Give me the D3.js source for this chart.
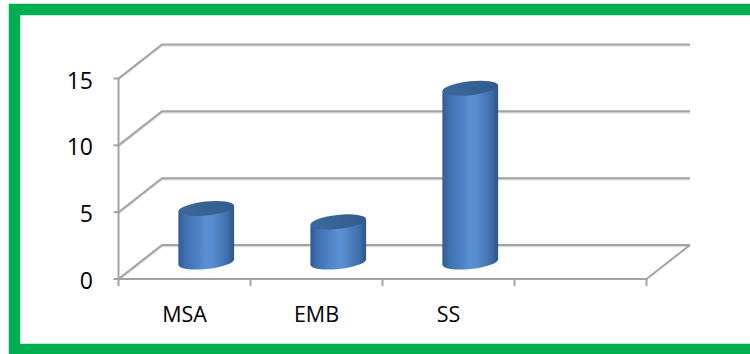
<!DOCTYPE html>
<html>
<head>
<meta charset="utf-8">
<script src="https://cdn.jsdelivr.net/npm/d3@7/dist/d3.min.js"></script>
<style>
html,body{margin:0;padding:0;background:#fff;}
svg{display:block;}
</style>
</head>
<body>
<svg id="chart" width="750" height="354"></svg>
<script>
const categories = ["MSA", "EMB", "SS", ""];
const values = [4, 3, 13, null];
const yTicks = [0, 5, 10, 15];

const svg = d3.select("#chart");

// green frame (right edge extends beyond view)
svg.append("rect")
  .attr("x", 14.5).attr("y", 9.5)
  .attr("width", 760).attr("height", 340)
  .attr("fill", "none").attr("stroke", "#00b050").attr("stroke-width", 11.5);

const x = d3.scaleBand().domain(categories).range([118.5, 646.5]).paddingInner(0).paddingOuter(0);
const y = d3.scaleLinear().domain([0, 15]).range([279, 78.5]);
const dx = 43.5, dy = -34;
const x0 = 118.5, x1 = 646.5;

const gridColor = "#a3a3a3";
const g = svg.append("g");

yTicks.forEach(t => {
  const yy = y(t);
  g.append("path")
    .attr("d", `M${x0},${yy} L${x0 + dx},${yy + dy} L${x1 + dx},${yy + dy}`)
    .attr("fill", "none").attr("stroke", "#dcdcdc").attr("stroke-width", 1.5)
    .attr("transform", "translate(0,1.5)");
  g.append("path")
    .attr("d", `M${x0},${yy} L${x0 + dx},${yy + dy} L${x1 + dx},${yy + dy}`)
    .attr("fill", "none").attr("stroke", gridColor).attr("stroke-width", 2);
});
g.append("path")
  .attr("d", `M${x0},${y(0)} L${x1},${y(0)} L${x1 + dx},${y(0) + dy}`)
  .attr("fill", "none").attr("stroke", gridColor).attr("stroke-width", 2);
g.append("line")
  .attr("x1", x0).attr("x2", x0).attr("y1", y(0)).attr("y2", y(15))
  .attr("stroke", gridColor).attr("stroke-width", 2);
yTicks.forEach(t => {
  g.append("line").attr("x1", x0 - 5).attr("x2", x0).attr("y1", y(t)).attr("y2", y(t))
    .attr("stroke", gridColor).attr("stroke-width", 2);
});
const catEdges = categories.map(c => x(c)).concat([x1]);
catEdges.forEach(cx => {
  g.append("line").attr("x1", cx).attr("x2", cx).attr("y1", y(0)).attr("y2", y(0) + 7)
    .attr("stroke", gridColor).attr("stroke-width", 2);
});

svg.append("g").selectAll("text").data(yTicks).join("text")
  .attr("x", 93).attr("y", d => y(d) + 1)
  .attr("text-anchor", "end").attr("dominant-baseline", "central")
  .attr("font-family", "Open Sans, sans-serif").attr("font-size", 23)
  .attr("fill", "#000").text(d => d);

svg.append("g").selectAll("text").data(categories).join("text")
  .attr("x", d => x(d) + x.bandwidth() / 2).attr("y", 322)
  .attr("text-anchor", "middle")
  .attr("font-family", "Open Sans, sans-serif").attr("font-size", 21.5)
  .attr("fill", "#000").text(d => d);

const defs = svg.append("defs");
const bodyGrad = defs.append("linearGradient").attr("id", "cylBody").attr("x1", "0").attr("x2", "1").attr("y1", "0").attr("y2", "0");
[[0, "#2f5b92"], [0.12, "#3e70b0"], [0.5, "#5a8fd3"], [0.6, "#5a8ed1"], [0.88, "#3d6dab"], [1, "#2c5489"]]
  .forEach(([o, c]) => bodyGrad.append("stop").attr("offset", o).attr("stop-color", c));
const topGrad = defs.append("linearGradient").attr("id", "cylTop").attr("x1", "0").attr("x2", "1").attr("y1", "0").attr("y2", "0");
[[0, "#3d689e"], [1, "#325c8e"]].forEach(([o, c]) => topGrad.append("stop").attr("offset", o).attr("stop-color", c));

const rx = 28, ry = 7, rot = -6 * Math.PI / 180;
function ellPt(cx, cy, t) {
  const ex = rx * Math.cos(t), ey = ry * Math.sin(t);
  return [cx + ex * Math.cos(rot) - ey * Math.sin(rot), cy + ex * Math.sin(rot) + ey * Math.cos(rot)];
}
const tExt = Math.atan2(-ry * Math.sin(rot), rx * Math.cos(rot));
const cyl = svg.append("g");
categories.forEach((c, i) => {
  const v = values[i];
  if (v == null) return;
  const cx = x(c) + x.bandwidth() / 2 + dx / 2;
  const yb = y(0) + dy / 2;
  const yt = y(v) + dy / 2;
  const rotDeg = rot * 180 / Math.PI;
  const bR = ellPt(cx, yb, tExt), bL = ellPt(cx, yb, tExt + Math.PI);
  const tR = ellPt(cx, yt, tExt), tL = ellPt(cx, yt, tExt + Math.PI);
  cyl.append("path")
    .attr("d", `M${tL[0]},${tL[1]} L${bL[0]},${bL[1]} A${rx},${ry} ${rotDeg} 0 0 ${bR[0]},${bR[1]} L${tR[0]},${tR[1]} Z`)
    .attr("fill", "url(#cylBody)");
  cyl.append("ellipse")
    .attr("cx", cx).attr("cy", yt).attr("rx", rx).attr("ry", ry)
    .attr("transform", `rotate(${rotDeg},${cx},${yt})`)
    .attr("fill", "url(#cylTop)");
});
</script>
</body>
</html>
